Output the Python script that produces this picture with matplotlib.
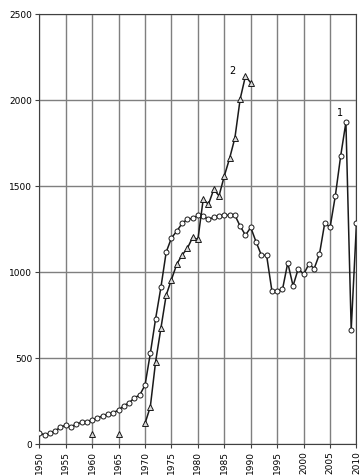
import numpy as np
import matplotlib.pyplot as plt

# series 1 (circles), yearly 1950-2010
years1 = list(range(1950, 2011))
vals1 = [66, 52, 62, 77, 97, 110, 100, 116, 126, 130,
         140, 149, 165, 172, 182, 198, 223, 240, 269, 285,
         343, 527, 729, 911, 1116, 1199, 1238, 1283, 1308, 1312,
         1330, 1324, 1308, 1318, 1327, 1331, 1331, 1331, 1267, 1215,
         1260, 1176, 1099, 1097, 891, 890, 899, 1054, 920, 1021,
         987, 1047, 1021, 1105, 1287, 1260, 1444, 1674, 1872, 665,
         1285]

# series 2 (triangles), yearly 1960-1990, nan = no value
nan = np.nan
years2 = list(range(1960, 1991))
vals2 = [60, nan, nan, nan, nan, 60, nan, nan, nan, nan,
         120, 217, 479, 673, 866, 957, 1046, 1099, 1138, 1202,
         1190, 1423, 1395, 1481, 1444, 1560, 1662, 1781, 2008, 2141,
         2101]

xticks = list(range(1950, 2011, 5))
yticks = [0, 500, 1000, 1500, 2000, 2500]

fig = plt.figure(figsize=(3.59, 4.76), dpi=100)
ax = fig.add_axes([0.1095, 0.0672, 0.8835, 0.9028])

grid_col = '#7f7f7f'
for x in xticks:
    ax.axvline(x, color=grid_col, lw=1, zorder=0)
for y in yticks:
    ax.axhline(y, color=grid_col, lw=1, zorder=0)

ax.plot(years1, vals1, color='#1a1a1a', lw=1.1, marker='o', ms=3.6,
        mfc='white', mec='#1a1a1a', mew=0.7, zorder=3)
ax.plot(years2, vals2, color='#1a1a1a', lw=1.1, marker='^', ms=3.8,
        mfc='#d9d9d9', mec='#1a1a1a', mew=0.7, zorder=3)

ax.text(1986.6, 2170, '2', fontsize=7, ha='center', va='center')
ax.text(2006.8, 1926, '1', fontsize=7, ha='center', va='center')

ax.set_xlim(1950, 2010)
ax.set_ylim(0, 2500)
ax.set_xticks(xticks)
ax.set_xticklabels([str(x) for x in xticks], rotation=90)
ax.set_yticks(yticks)
ax.tick_params(labelsize=6.5, length=3, width=0.8, color='#404040', pad=2)
for s in ax.spines.values():
    s.set_color('#404040')
    s.set_linewidth(0.8)

fig.savefig('out.png', dpi=100)
